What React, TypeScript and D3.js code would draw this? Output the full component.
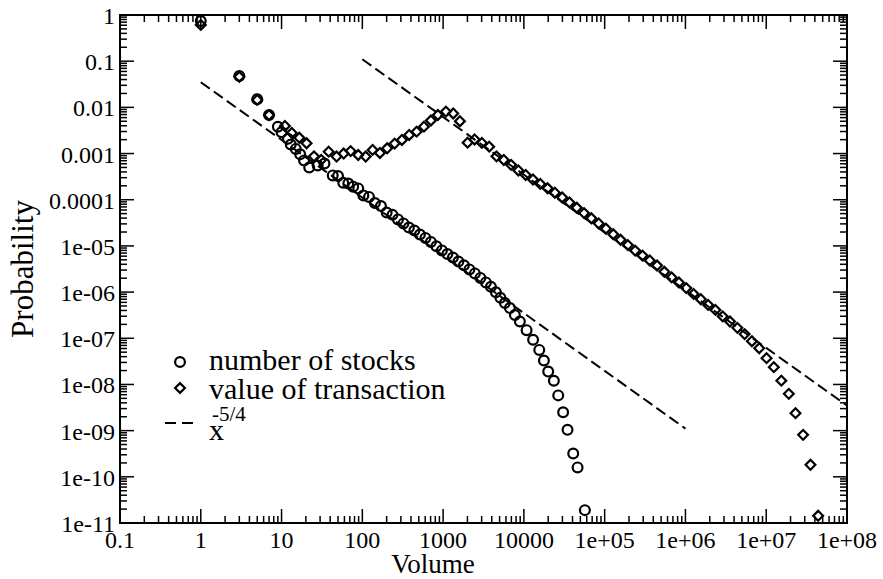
import React from "react";
import * as d3 from "d3";

const W = 883;
const H = 579;

const xTickValues = [0.1, 1, 10, 100, 1000, 1e4, 1e5, 1e6, 1e7, 1e8];
const xTickLabels = ["0.1", "1", "10", "100", "1000", "10000", "1e+05", "1e+06", "1e+07", "1e+08"];
const yTickValues = [1, 0.1, 0.01, 0.001, 1e-4, 1e-5, 1e-6, 1e-7, 1e-8, 1e-9, 1e-10, 1e-11];
const yTickLabels = ["1", "0.1", "0.01", "0.001", "0.0001", "1e-05", "1e-06", "1e-07", "1e-08", "1e-09", "1e-10", "1e-11"];

const stocksX = [1, 3, 5, 7, 9, 10, 12, 13, 15, 17, 19, 22, 28, 34, 43, 50, 58, 67, 77, 89, 103, 121, 143, 170, 200, 236, 276, 323, 377, 441, 516, 604, 706, 826, 966, 1130, 1322, 1546, 1809, 2116, 2475, 2895, 3387, 3905, 4503, 5120, 5820, 6710, 7740, 8920, 10800, 13000, 15500, 17700, 20000, 23500, 26600, 30600, 34700, 40800, 46200, 56900];
const stocksY = [0.74, 0.048, 0.015, 0.0068, 0.0038, 0.0029, 0.0021, 0.00157, 0.00126, 0.00096, 0.00071, 0.0005, 0.00055, 0.00061, 0.000336, 0.000327, 0.000234, 0.000225, 0.000192, 0.000176, 0.000124, 0.000115, 8.5e-5, 7.3e-5, 5.3e-5, 4.7e-5, 3.75e-5, 3.07e-5, 2.51e-5, 2.16e-5, 1.77e-5, 1.49e-5, 1.22e-5, 9.8e-6, 8.0e-6, 6.7e-6, 5.6e-6, 4.6e-6, 3.8e-6, 3.1e-6, 2.54e-6, 2.03e-6, 1.62e-6, 1.3e-6, 9.9e-7, 7.5e-7, 5.8e-7, 4.5e-7, 3.2e-7, 2.3e-7, 1.5e-7, 9.3e-8, 5.6e-8, 3.3e-8, 1.9e-8, 1.2e-8, 5.8e-9, 2.5e-9, 1.04e-9, 3.2e-10, 1.6e-10, 1.9e-11];

const transX = [1, 3, 5, 7, 11, 13.4, 16.6, 20.4, 25.2, 31, 38.3, 48, 58.7, 71.6, 89, 110, 134, 165, 203, 251, 309, 380, 470, 579, 706, 862, 1083, 1334, 1614, 2010, 2454, 3020, 3720, 4580, 5638, 6944, 8550, 10527, 12963, 15959, 19650, 24190, 29790, 36680, 45150, 55600, 68450, 84300, 103800, 127800, 157300, 193700, 238500, 293700, 361500, 445200, 548200, 674900, 831000, 1.023e6, 1.26e6, 1.55e6, 1.91e6, 2.35e6, 2.89e6, 3.56e6, 4.39e6, 5.4e6, 6.65e6, 8.19e6, 1.009e7, 1.242e7, 1.538e7, 1.904e7, 2.305e7, 2.86e7, 3.53e7, 4.39e7];
const transY = [0.61, 0.046, 0.0145, 0.0068, 0.00396, 0.0028, 0.0022, 0.00167, 0.00087, 0.00073, 0.0011, 0.00086, 0.001, 0.00113, 0.00093, 0.00086, 0.0012, 0.00103, 0.0013, 0.00164, 0.00197, 0.00253, 0.00298, 0.00382, 0.0052, 0.00684, 0.0081, 0.00738, 0.00502, 0.00172, 0.00202, 0.0017, 0.00141, 0.00087, 7.27e-4, 5.69e-4, 4.31e-4, 3.44e-4, 2.75e-4, 2.2e-4, 1.77e-4, 1.42e-4, 1.12e-4, 8.74e-5, 6.71e-5, 5.13e-5, 3.96e-5, 3.07e-5, 2.36e-5, 1.79e-5, 1.36e-5, 1.04e-5, 7.91e-6, 6.17e-6, 4.85e-6, 3.77e-6, 2.76e-6, 2.08e-6, 1.61e-6, 1.22e-6, 9.14e-7, 7.02e-7, 5.28e-7, 4.12e-7, 2.98e-7, 2.3e-7, 1.68e-7, 1.23e-7, 8.65e-8, 6.1e-8, 3.71e-8, 2.37e-8, 1.21e-8, 6.26e-9, 2.39e-9, 8.1e-10, 1.82e-10, 1.43e-11];

const fitExponent = -1.25;
const fitLines = [
  { c: 0.035, from: 1, to: 1e6 },
  { c: 34.8, from: 100, to: 1e8 },
];

const legendLabels = ["number of stocks", "value of transaction", "x", "-5/4"];

const FONT = "'Liberation Serif', 'Times New Roman', 'DejaVu Serif', serif";

export default function App() {
  const left = 120, right = 847, top = 15, bottom = 523;
  const x = d3.scaleLog().domain([0.1, 1e8]).range([left, right]);
  const y = d3.scaleLog().domain([1e-11, 1]).range([bottom, top]);

  const minorX: number[] = [];
  for (let i = 0; i < xTickValues.length - 1; i++) {
    for (let k = 2; k <= 9; k++) minorX.push(xTickValues[i] * k);
  }
  const minorY: number[] = [];
  for (let i = 1; i < yTickValues.length; i++) {
    for (let k = 2; k <= 9; k++) minorY.push(yTickValues[i] * k);
  }

  const majorLen = 14, minorLen = 7;
  const line = d3.line<[number, number]>().x((d) => x(d[0])).y((d) => y(d[1]));
  const diamond = d3.symbol().type(d3.symbolSquare).size(48)();
  const circR = 4.9;
  const sw = 2.2;

  const stocks = stocksX.map((v, i) => [v, stocksY[i]] as [number, number]);
  const trans = transX.map((v, i) => [v, transY[i]] as [number, number]);

  const tf = { fontFamily: FONT };

  return (
    <svg width={W} height={H} style={{ position: "absolute", left: 0, top: 0, background: "#fff", fontFamily: FONT }}>
      <rect x={0} y={0} width={W} height={H} fill="#fff" />
      <defs>
        <clipPath id="plotclip">
          <rect x={left} y={top} width={right - left} height={bottom - top} />
        </clipPath>
      </defs>

      {/* fit lines */}
      <g clipPath="url(#plotclip)">
        {fitLines.map((f, i) => (
          <path
            key={i}
            d={line([
              [f.from, f.c * Math.pow(f.from, fitExponent)],
              [f.to, f.c * Math.pow(f.to, fitExponent)],
            ]) as string}
            fill="none"
            stroke="#000"
            strokeWidth={2}
            strokeDasharray="11,5"
          />
        ))}
      </g>

      {/* data */}
      <g clipPath="url(#plotclip)">
        {stocks.map((d, i) => (
          <circle key={"c" + i} cx={x(d[0])} cy={y(d[1])} r={circR} fill="none" stroke="#000" strokeWidth={sw} />
        ))}
        {trans.map((d, i) => (
          <path key={"d" + i} d={diamond} transform={`translate(${x(d[0])},${y(d[1])}) rotate(45)`} fill="none" stroke="#000" strokeWidth={sw} />
        ))}
      </g>

      {/* ticks */}
      <g stroke="#000" strokeWidth={1.5}>
        {xTickValues.map((v, i) => (
          <g key={"xt" + i}>
            <line x1={x(v)} x2={x(v)} y1={bottom} y2={bottom - majorLen} />
            <line x1={x(v)} x2={x(v)} y1={top} y2={top + majorLen} />
          </g>
        ))}
        {minorX.map((v, i) => (
          <g key={"xm" + i}>
            <line x1={x(v)} x2={x(v)} y1={bottom} y2={bottom - minorLen} />
            <line x1={x(v)} x2={x(v)} y1={top} y2={top + minorLen} />
          </g>
        ))}
        {yTickValues.map((v, i) => (
          <g key={"yt" + i}>
            <line x1={left} x2={left + majorLen} y1={y(v)} y2={y(v)} />
            <line x1={right} x2={right - majorLen} y1={y(v)} y2={y(v)} />
          </g>
        ))}
        {minorY.map((v, i) => (
          <g key={"ym" + i}>
            <line x1={left} x2={left + minorLen} y1={y(v)} y2={y(v)} />
            <line x1={right} x2={right - minorLen} y1={y(v)} y2={y(v)} />
          </g>
        ))}
      </g>

      <rect x={left} y={top} width={right - left} height={bottom - top} fill="none" stroke="#000" strokeWidth={2} />

      {/* tick labels */}
      <g fontSize={24} fill="#000">
        {xTickValues.map((v, i) => (
          <text key={"xl" + i} style={tf} x={x(v)} y={548} textAnchor="middle">
            {xTickLabels[i]}
          </text>
        ))}
        {yTickValues.map((v, i) => (
          <text key={"yl" + i} style={tf} x={115} y={y(v) + 9} textAnchor="end">
            {yTickLabels[i]}
          </text>
        ))}
      </g>

      {/* axis titles */}
      <text style={tf} x={433} y={573} textAnchor="middle" fontSize={27}>
        Volume
      </text>
      <text style={tf} transform={`translate(33,${(top + bottom) / 2}) rotate(-90)`} textAnchor="middle" fontSize={31}>
        Probability
      </text>

      {/* legend */}
      <g fontSize={30} fill="#000">
        <circle cx={180} cy={362} r={circR} fill="none" stroke="#000" strokeWidth={sw} />
        <text style={tf} x={209} y={370}>{legendLabels[0]}</text>
        <path d={diamond} transform="translate(180,388) rotate(45)" fill="none" stroke="#000" strokeWidth={sw} />
        <text style={tf} x={209} y={399}>{legendLabels[1]}</text>
        <line x1={165} x2={193} y1={423} y2={423} stroke="#000" strokeWidth={2} strokeDasharray="11,6" />
        <text style={tf} x={209} y={440}>{legendLabels[2]}</text>
        <text style={tf} x={212} y={421} fontSize={21}>{legendLabels[3]}</text>
      </g>
    </svg>
  );
}
